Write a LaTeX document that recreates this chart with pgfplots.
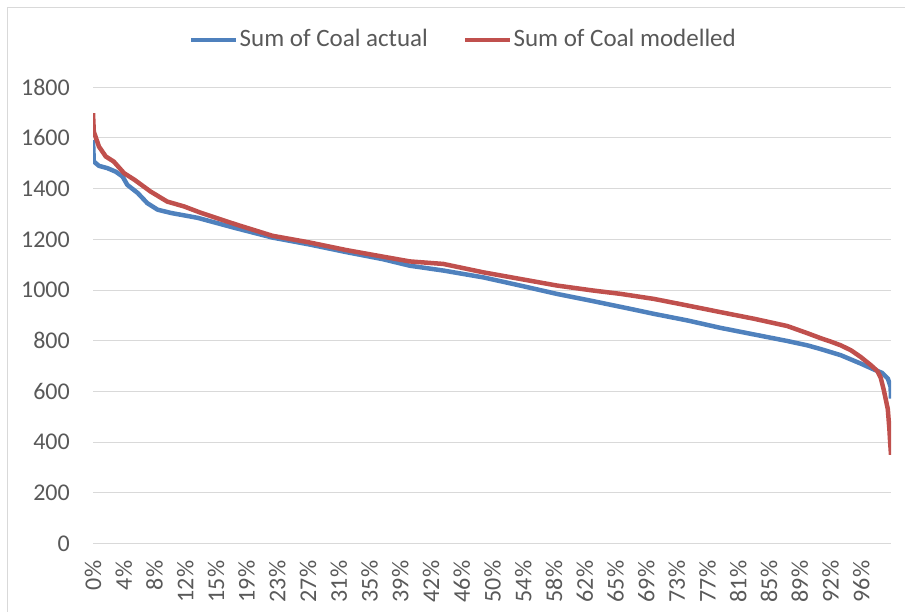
\documentclass[border=0pt]{standalone}
\usepackage{fontspec}
\setmainfont{Carlito}
\usepackage{pgfplots}
\pgfplotsset{compat=1.18}
\definecolor{xlblue}{HTML}{4F81BD}
\definecolor{xlred}{HTML}{C0504D}
\definecolor{xlgrid}{HTML}{D9D9D9}
\definecolor{xltext}{HTML}{595959}
\begin{document}
\fontsize{24bp}{28bp}\selectfont
\begin{tikzpicture}
\path[use as bounding box] (0,0) rectangle (905bp,612bp);
\draw[xlgrid, line width=1bp] (7bp,-5bp) -- (7bp,604bp) -- (915bp,604bp);
\begin{axis}[
    at={(93bp,68.5bp)}, anchor=south west,
    scale only axis,
    width=798bp, height=456.2bp,
    xmin=0, xmax=100,
    ymin=0, ymax=1800,
    ytick={0,200,...,1800},
    xtick={0,3.851,7.702,11.553,15.404,19.255,23.106,26.957,30.808,34.659,38.51,42.361,46.212,50.063,53.914,57.765,61.616,65.467,69.318,73.169,77.02,80.871,84.722,88.573,92.424,96.275},
    xticklabels={0\%,4\%,8\%,12\%,15\%,19\%,23\%,27\%,31\%,35\%,39\%,42\%,46\%,50\%,54\%,58\%,62\%,65\%,69\%,73\%,77\%,81\%,85\%,89\%,92\%,96\%},
    ymajorgrids,
    grid style={xlgrid, line width=1bp},
    axis line style={draw=none},
    tick style={draw=none},
    /pgf/number format/assume math mode=true,
    /pgf/number format/set thousands separator={},
    ticklabel style={text=xltext, font=\fontsize{24bp}{28bp}\selectfont},
    yticklabel style={inner sep=0pt, xshift=-23bp},
    xticklabel style={rotate=90, anchor=east, inner sep=0pt, xshift=-17bp},
    legend style={at={(0.4637,1.1037)}, anchor=center, draw=none, fill=none,
        font=\fontsize{25bp}{29bp}\selectfont, text=xltext,
        /tikz/every even column/.append style={column sep=34bp},
        nodes={inner sep=1bp}},
    legend columns=2,
    legend image code/.code={\draw[#1, line width=4.5bp] (0bp,0bp) -- (45bp,0bp);},
    every axis plot/.append style={line width=4.5bp, line join=round},
]
\addplot[xlblue] coordinates {
(0,1592) (0.1,1507) (0.75,1490) (1.8,1481) (2.85,1467) (3.7,1448)
(4.3,1415) (5.6,1383) (6.8,1343) (8.1,1317) (9.8,1304) (13.1,1285)
(17.8,1245) (22.5,1207) (27.1,1180) (31.7,1150) (36.3,1122) (39.7,1096)
(43.9,1077) (48.9,1050) (53.5,1018) (58.1,985) (62.7,956) (67.3,926)
(70.3,906) (74.5,880) (78.6,851) (82.8,825) (87.0,799) (89.5,782)
(91.2,767) (93.7,743) (96.2,710) (97.9,686) (98.9,673) (99.6,651)
(99.95,618) (100,572)
};
\addlegendentry{Sum of Coal actual}
\addplot[xlred] coordinates {
(0,1698) (0.1,1625) (0.75,1566) (1.6,1527) (2.6,1507) (3.9,1461)
(5.2,1435) (7.2,1389) (9.3,1349) (11.4,1330) (13.5,1305) (18,1258)
(22.5,1214) (27.1,1188) (31.7,1158) (36.3,1132) (39.7,1113) (43.9,1103)
(48.9,1070) (53.5,1044) (58.1,1018) (62.7,998) (66.1,985) (70.3,965)
(74.5,939) (78.6,913) (82.8,887) (87.0,858) (89.5,830) (91.2,810)
(92.5,796) (93.7,782) (95.0,762) (96.2,736) (97.5,703) (98.3,680)
(98.7,655) (99.1,605) (99.6,530) (99.8,450) (99.9,396) (100,350)
};
\addlegendentry{Sum of Coal modelled}
\end{axis}
\end{tikzpicture}
\end{document}
